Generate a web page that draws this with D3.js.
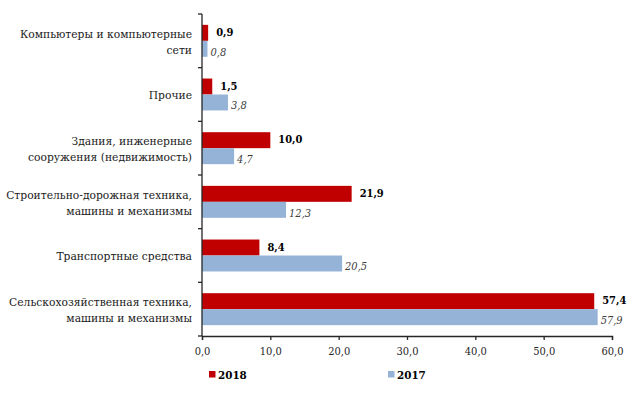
<!DOCTYPE html>
<html>
<head>
<meta charset="utf-8">
<script src="https://cdn.jsdelivr.net/npm/d3@7"></script>
<style>
  body { margin: 0; background: #fff; }
  svg, svg text { font-family: "DejaVu Serif Condensed", "DejaVu Serif", serif; font-stretch: condensed; }
</style>
</head>
<body>
<div id="container"></div>
<script>
// categories top to bottom, each label split into lines
const categories = [
  ["Компьютеры и компьютерные", "сети"],
  ["Прочие"],
  ["Здания, инженерные", "сооружения (недвижимость)"],
  ["Строительно-дорожная техника,", "машины и механизмы"],
  ["Транспортные средства"],
  ["Сельскохозяйственная техника,", "машины и механизмы"]
];
const values2018 = [0.9, 1.5, 10.0, 21.9, 8.4, 57.4];
const values2017 = [0.8, 3.8, 4.7, 12.3, 20.5, 57.9];
const seriesNames = ["2018", "2017"];
const xTicks = [0, 10, 20, 30, 40, 50, 60];

const width = 638;
const height = 393;
const colors = { "2018": "#C00000", "2017": "#95B3D7" };

const svg = d3
  .select("#container")
  .append("svg")
  .attr("width", width)
  .attr("height", height);

const keys = categories.map((c, i) => i);

const x = d3.scaleLinear([0, 60], [202, 612]);
const y = d3.scaleBand(keys, [14, 336]).padding(0);
const ySub = d3
  .scaleBand(seriesNames, [0, y.step()])
  .paddingInner(0)
  .paddingOuter(0.68);

const fmt = (v) => d3.format(".1f")(v).replace(".", ",");

const rows = keys.map((i) => ({
  i,
  label: categories[i],
  vals: { "2018": values2018[i], "2017": values2017[i] }
}));

// bars
const groups = svg
  .selectAll("g.cat")
  .data(rows)
  .join("g")
  .attr("class", "cat")
  .attr("transform", (d) => `translate(0,${y(d.i)})`);

groups
  .selectAll("rect")
  .data((d) => seriesNames.map((s) => ({ s, v: d.vals[s] })))
  .join("rect")
  .attr("x", x(0))
  .attr("y", (d) => ySub(d.s))
  .attr("width", (d) => x(d.v) - x(0))
  .attr("height", ySub.bandwidth())
  .attr("fill", (d) => colors[d.s]);

// value labels: 2018 bold, 2017 italic grey
groups
  .selectAll("text.val")
  .data((d) => seriesNames.map((s) => ({ s, v: d.vals[s] })))
  .join("text")
  .attr("class", "val")
  .attr("x", (d) => x(d.v) + (d.s === "2018" ? 8 : 3))
  .attr("y", (d) => ySub(d.s) + ySub.bandwidth() / 2 + (d.s === "2018" ? 3 : 7))
  .attr("font-size", 11)
  .attr("font-weight", (d) => (d.s === "2018" ? "bold" : "normal"))
  .attr("font-style", (d) => (d.s === "2017" ? "italic" : "normal"))
  .attr("fill", (d) => (d.s === "2018" ? "#000" : "#404040"))
  .text((d) => fmt(d.v));

// category labels
const catText = groups
  .append("text")
  .attr("class", "cat-label")
  .attr("text-anchor", "end")
  .attr("font-size", 12)
  .attr("fill", "#1a1a1a");
catText
  .selectAll("tspan")
  .data((d) => d.label.map((t, k) => ({ t, k, n: d.label.length })))
  .join("tspan")
  .attr("x", 192)
  .attr("y", (d) => y.step() / 2 + 5 + (d.k - (d.n - 1) / 2) * 16)
  .text((d) => d.t);

// shrink labels so the widest line fits the space left of the axis
let widest = 0;
catText.selectAll("tspan").each(function () {
  widest = Math.max(widest, this.getComputedTextLength());
});
if (widest > 186) catText.attr("font-size", (12 * 186) / widest);

// y axis line with ticks at band edges
const axisColor = "#262626";
svg
  .append("line")
  .attr("x1", x(0))
  .attr("x2", x(0))
  .attr("y1", y.range()[0])
  .attr("y2", y.range()[1])
  .attr("stroke", axisColor)
  .attr("stroke-width", 1.3);

const edges = keys.map((k) => y(k)).concat([y.range()[1]]);
svg
  .selectAll("line.ytick")
  .data(edges)
  .join("line")
  .attr("class", "ytick")
  .attr("x1", x(0) - 4)
  .attr("x2", x(0))
  .attr("y1", (d) => d)
  .attr("y2", (d) => d)
  .attr("stroke", axisColor)
  .attr("stroke-width", 1.3);

// x axis
const xAx = svg
  .append("g")
  .attr("transform", `translate(0,${y.range()[1]})`)
  .call(
    d3.axisBottom(x).tickValues(xTicks).tickSize(4).tickPadding(7).tickFormat(fmt)
  );
xAx.attr("font-family", null);
xAx.select(".domain").attr("stroke", axisColor).attr("stroke-width", 1.3);
xAx.selectAll(".tick line").attr("stroke", axisColor).attr("stroke-width", 1.3);
xAx
  .selectAll(".tick text")
  .attr("font-size", 11)
  .attr("fill", "#262626");

// legend
const legendPos = [
  { s: "2018", x: 209 },
  { s: "2017", x: 388 }
];
const legend = svg
  .selectAll("g.legend")
  .data(legendPos)
  .join("g")
  .attr("class", "legend")
  .attr("transform", (d) => `translate(${d.x},371)`);
legend
  .append("rect")
  .attr("width", 6.5)
  .attr("height", 6.5)
  .attr("fill", (d) => colors[d.s]);
legend
  .append("text")
  .attr("x", 9)
  .attr("y", 7.5)
  .attr("font-size", 11.5)
  .attr("font-weight", "bold")
  .attr("fill", "#000")
  .text((d) => d.s);
</script>
</body>
</html>
